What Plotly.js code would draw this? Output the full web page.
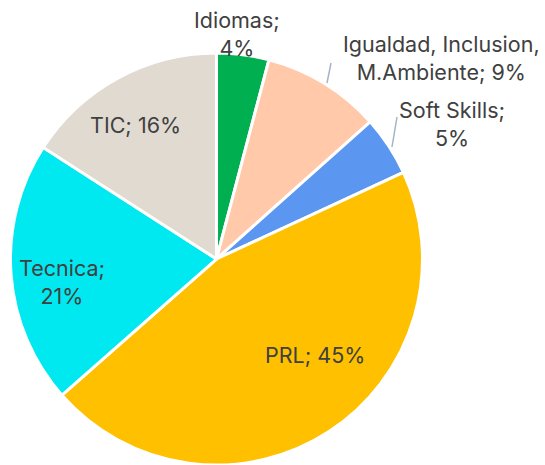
<!DOCTYPE html>
<html>
<head>
<meta charset="utf-8">
<script src="https://cdn.plot.ly/plotly-3.0.1.min.js"></script>
<style>
  body { margin: 0; background: #fff; }
  #chart { width: 545px; height: 465px; }
</style>
</head>
<body>
<div id="chart"></div>
<script>
// Share of training hours by area (%)
var categories = ['Idiomas', 'Igualdad, Inclusion, M.Ambiente', 'Soft Skills', 'PRL', 'Tecnica', 'TIC'];
var shares = [4.1, 9.3, 4.7, 45.4, 20.6, 15.9];
var colors = ['#00B050', '#FFC9AA', '#5B96F0', '#FFC000', '#00E8F0', '#E0DAD0'];

// label layout: pixel position and how each label wraps
var labelPos = [[237, 34], [441, 58], [452, 124], [315, 355], [62, 282], [135, 125]];
var labelName = ['Idiomas', 'Igualdad, Inclusion,<br>M.Ambiente', 'Soft Skills', 'PRL', 'Tecnica', 'TIC'];
var labelSep = ['<br>', ' ', '<br>', ' ', '<br>', ' '];

var trace = {
  type: 'pie',
  labels: categories,
  values: shares,
  textinfo: 'none',
  sort: false,
  direction: 'clockwise',
  rotation: 0,
  marker: { colors: colors, line: { color: '#ffffff', width: 3 } },
  domain: { x: [0.0183, 0.7761], y: [0, 0.886] },
  hoverinfo: 'label+percent',
  showlegend: false
};

var font = { family: 'Inter, sans-serif', size: 21.5, color: '#404040' };

var annotations = labelName.map(function (name, i) {
  return {
    text: name + ';' + labelSep[i] + Math.round(shares[i]) + '%',
    x: labelPos[i][0] / 545, y: 1 - labelPos[i][1] / 465,
    xref: 'paper', yref: 'paper', showarrow: false, font: font,
    xanchor: 'center', yanchor: 'middle'
  };
});

var layout = {
  width: 545,
  height: 465,
  margin: { l: 0, r: 0, t: 0, b: 0 },
  paper_bgcolor: '#ffffff',
  showlegend: false,
  annotations: annotations,
  shapes: [
    { type: 'line', xref: 'paper', yref: 'paper', x0: 327 / 545, y0: 1 - 83 / 465, x1: 331 / 545, y1: 1 - 63 / 465,
      line: { color: '#A6B4C8', width: 1.5 } },
    { type: 'line', xref: 'paper', yref: 'paper', x0: 392 / 545, y0: 1 - 147 / 465, x1: 397 / 545, y1: 1 - 117 / 465,
      line: { color: '#A6B4C8', width: 1.5 } }
  ]
};

Plotly.newPlot('chart', [trace], layout, { displayModeBar: false });
</script>
</body>
</html>
